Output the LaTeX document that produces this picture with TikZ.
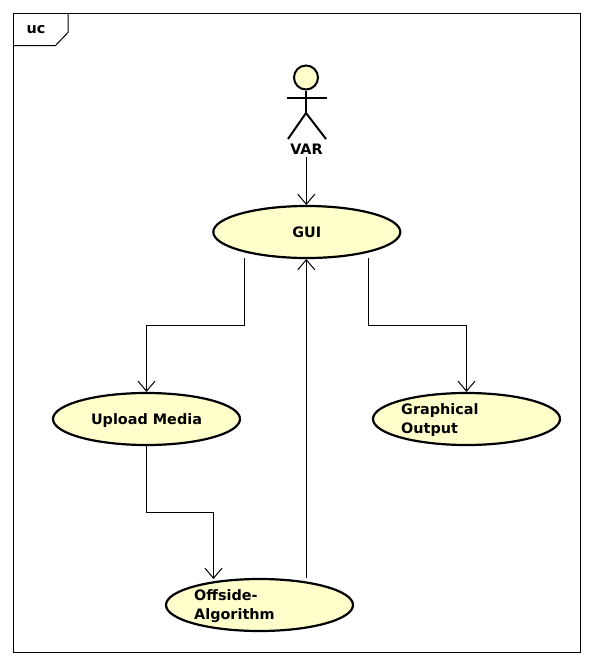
\documentclass[tikz,border=0pt]{standalone}
\usepackage{fontspec}
\setmainfont{DejaVu Sans}
\usetikzlibrary{shapes.geometric,arrows.meta}
\definecolor{ucfill}{HTML}{FFFFCC}

\begin{document}
\begin{tikzpicture}[%
	x=1pt,y=-1pt,
	>={Straight Barb[length=10pt,width=17pt,line width=1pt]},
	usecase/.style={draw, ellipse, line width=2.2pt, fill=ucfill, minimum width=187pt, minimum height=52pt, inner sep=0pt, text height=11.5pt, text depth=0pt, font=\bfseries\fontsize{14.4}{19}\selectfont},
	multi/.style={anchor=west, align=left, inner sep=0pt, font=\bfseries\fontsize{14.4}{19}\selectfont},
	stick/.style={draw, line width=2pt},
	link/.style={draw, line width=1pt, ->}
]
\useasboundingbox (0,0) rectangle (593,665);

\draw[line width=1pt] (13.5,13.5) rectangle (580.5,652.5);
\draw[line width=1pt] (13.5,45.5) -- (55.5,45.5) -- (68,32.5) -- (68,13.5);
\node[inner sep=0pt, font=\bfseries\fontsize{14.4}{16}\selectfont] (frametag) at (36,30) {uc};

% actor
\node[circle, draw, line width=2pt, fill=ucfill, minimum size=24pt, inner sep=0pt] (head) at (306,77.5) {};
\coordinate (hip) at (306,113);
\coordinate (armL) at (287,98);
\coordinate (armR) at (327,98);
\coordinate (footL) at (288,139);
\coordinate (footR) at (326,139);
\path[stick] (head) -- (hip);
\path[stick] (armL) -- (armR);
\path[stick] (footL) -- (hip) -- (footR);
\node[inner sep=0pt, font=\bfseries\fontsize{14.4}{16}\selectfont] (var) at (306.5,149) {VAR};

\node[usecase] (gui) at (306.8,232) {GUI};
\node[usecase] (upload) at (146.5,419) {Upload Media};
\node[usecase] (output) at (466.5,419) {};
\node[usecase] (algo) at (259.5,605) {};
\node[multi] (outputtext) at (401,420) {Graphical\\Output};
\node[multi] (algotext) at (194,606.5) {Offside-\\Algorithm};

\coordinate (guiL) at (244.5,258);
\coordinate (guiR) at (368,258);
\coordinate (guiB) at (306.3,259);
\coordinate (algoT) at (306.3,578);
\coordinate (algoL) at (213.5,579);

\path[link] (306.3,157) -- (306.3,205);
\path[link] (guiL) -- (guiL |- 0,325) -| (upload.north);
\path[link] (guiR) -- (guiR |- 0,325) -| (output.north);
\path[link] (upload.south) -- (146.5,512.5) -| (algoL);
\path[link] (algoT) -- (guiB);
\end{tikzpicture}
\end{document}
